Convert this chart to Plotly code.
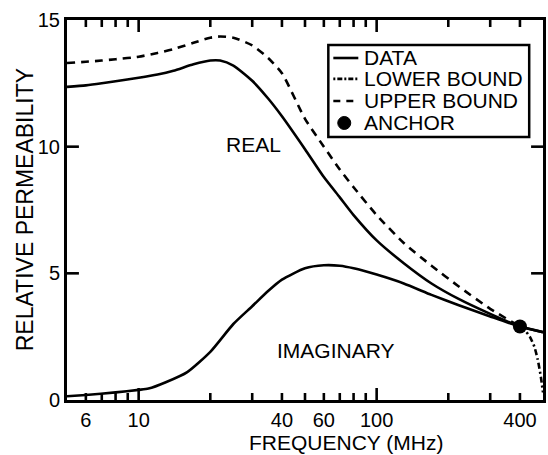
import math
import plotly.graph_objects as go

# ---- data ----
freq_real = [5, 6, 7, 8, 10, 12, 14, 17, 20, 22, 25, 30, 35, 40, 50, 60, 70, 80, 100, 130, 170, 220, 300, 400, 500]
real_vals = [12.36, 12.42, 12.5, 12.58, 12.72, 12.85, 13.0, 13.25, 13.4, 13.4, 13.2, 12.6, 11.9, 11.2, 9.9, 8.8, 8.0, 7.3, 6.3, 5.4, 4.6, 4.0, 3.4, 2.9, 2.68]

freq_imag = [5, 6, 8, 10, 11, 13, 16, 20, 25, 30, 35, 40, 50, 60, 70, 80, 100, 130, 170, 220, 300, 400, 500]
imag_vals = [0.15, 0.2, 0.3, 0.4, 0.45, 0.7, 1.1, 1.9, 3.0, 3.7, 4.3, 4.75, 5.2, 5.32, 5.3, 5.2, 4.95, 4.6, 4.15, 3.75, 3.3, 2.9, 2.68]

freq_upper = [5, 6, 7, 8, 10, 12, 14, 17, 20, 22, 25, 30, 35, 40, 50, 60, 70, 80, 100, 130, 170, 220, 300, 400]
upper_vals = [13.3, 13.35, 13.4, 13.45, 13.55, 13.7, 13.85, 14.1, 14.3, 14.35, 14.3, 14.0, 13.5, 12.9, 11.1, 10.0, 9.1, 8.4, 7.3, 6.2, 5.3, 4.5, 3.6, 2.9]

freq_lower = [400, 420, 440, 460, 475, 490, 500]
lower_vals = [2.9, 2.75, 2.5, 2.1, 1.6, 0.9, 0.3]

anchor_freq = [400]
anchor_val = [2.9]

x_label_vals = [6, 10, 40, 60, 100, 400]
x_label_text = ["6", "10", "40", "60", "100", "400"]
x_minor_vals = [6, 7, 8, 9, 20, 30, 40, 50, 60, 70, 80, 90, 200, 300, 400]
x_major_vals = [10, 100]
y_label_vals = [0, 5, 10, 15]
y_tick_vals = [5, 10]

legend_names = ["DATA", "LOWER BOUND", "UPPER BOUND", "ANCHOR"]
legend_dash = ["solid", "2px,2px,5px,2px", "7px,6px", None]

FONT = "Liberation Sans, Arial, Helvetica, sans-serif"
LW = 2.6
DASH_DOT = "6px,3px,2px,3px"
DASH = "8px,6px"

X_MIN, X_MAX, Y_MIN, Y_MAX = 5, 500, 0, 15
PLOT_W, PLOT_H = 479, 380  # plot area in pixels

fig = go.Figure()

fig.add_trace(go.Scatter(x=freq_real, y=real_vals, mode="lines", name=legend_names[0], showlegend=False,
                         line=dict(color="black", width=LW, shape="spline", smoothing=0.6)))
fig.add_trace(go.Scatter(x=freq_imag, y=imag_vals, mode="lines", name=legend_names[0], showlegend=False,
                         line=dict(color="black", width=LW, shape="spline", smoothing=0.6)))
fig.add_trace(go.Scatter(x=freq_upper, y=upper_vals, mode="lines", name=legend_names[2], showlegend=False,
                         line=dict(color="black", width=LW, dash=DASH, shape="spline", smoothing=0.6)))
fig.add_trace(go.Scatter(x=freq_lower, y=lower_vals, mode="lines", name=legend_names[1], showlegend=False,
                         line=dict(color="black", width=LW, dash=DASH_DOT, shape="spline", smoothing=0.6)))
fig.add_trace(go.Scatter(x=anchor_freq, y=anchor_val, mode="markers", name=legend_names[3], showlegend=False,
                         marker=dict(color="black", size=14)))

# ---- inside tick marks on all four sides, drawn as a line trace ----
y_per_px = (Y_MAX - Y_MIN) / PLOT_H
logx_per_px = (math.log10(X_MAX) - math.log10(X_MIN)) / PLOT_W
tx, ty = [], []
for vals, length in ((x_minor_vals, 7), (x_major_vals, 12)):
    for v in vals:
        tx += [v, v, None, v, v, None]
        ty += [Y_MIN, Y_MIN + length * y_per_px, None, Y_MAX, Y_MAX - length * y_per_px, None]
for v in y_tick_vals:
    left_end = 10 ** (math.log10(X_MIN) + 12 * logx_per_px)
    right_end = 10 ** (math.log10(X_MAX) - 12 * logx_per_px)
    tx += [X_MIN, left_end, None, X_MAX, right_end, None]
    ty += [v, v, None, v, v, None]
fig.add_trace(go.Scatter(x=tx, y=ty, mode="lines", showlegend=False, hoverinfo="skip",
                         line=dict(color="black", width=2.6), cliponaxis=False))

# ---- legend box (drawn in paper coordinates) ----
lx0, lx1, ly0, ly1 = 0.549, 0.971, 0.692, 0.934
entry_y = [0.900, 0.845, 0.787, 0.729]
shapes = [dict(type="rect", xref="paper", yref="paper", x0=lx0, x1=lx1, y0=ly0, y1=ly1,
               line=dict(color="black", width=2.5), fillcolor="white", layer="above")]
annotations = []
for name, dash, ey in zip(legend_names, legend_dash, entry_y):
    if dash is not None:
        shapes.append(dict(type="line", xref="paper", yref="paper", x0=0.5595, x1=0.612, y0=ey, y1=ey,
                           line=dict(color="black", width=LW, dash=dash), layer="above"))
    else:
        shapes.append(dict(type="circle", xref="paper", yref="paper", xsizemode="pixel", ysizemode="pixel",
                           xanchor=0.5825, yanchor=ey, x0=-6.5, x1=6.5, y0=-6.5, y1=6.5,
                           fillcolor="black", line=dict(color="black", width=1), layer="above"))
    annotations.append(dict(x=0.620, y=ey, xref="paper", yref="paper", text=name, showarrow=False,
                            xanchor="left", yanchor="middle", font=dict(size=21)))

annotations += [
    dict(x=1.484, y=10.07, xref="x", yref="y", text="REAL", showarrow=False, font=dict(size=21)),
    dict(x=1.826, y=1.95, xref="x", yref="y", text="IMAGINARY", showarrow=False, font=dict(size=21)),
    dict(x=0.5866, y=-0.113, xref="paper", yref="paper", text="FREQUENCY (MHz)", showarrow=False,
         xanchor="center", yanchor="middle", font=dict(size=21)),
    dict(x=-0.0877, y=0.5, xref="paper", yref="paper", text="RELATIVE PERMEABILITY", showarrow=False,
         textangle=-90, xanchor="center", yanchor="middle", font=dict(size=23)),
]

fig.update_layout(
    width=548, height=455,
    margin=dict(l=67, r=2, t=20, b=55),
    paper_bgcolor="white", plot_bgcolor="white",
    font=dict(family=FONT, size=20, color="black"),
    showlegend=False,
    xaxis=dict(type="log", range=[math.log10(X_MIN), math.log10(X_MAX)], showgrid=False, zeroline=False,
               showline=True, linecolor="black", linewidth=3, mirror=True,
               ticks="", tickmode="array", tickvals=x_label_vals, ticktext=x_label_text,
               tickfont=dict(size=20)),
    yaxis=dict(range=[Y_MIN, Y_MAX], showgrid=False, zeroline=False,
               showline=True, linecolor="black", linewidth=3, mirror=True,
               ticks="", tickmode="array", tickvals=y_label_vals, tickfont=dict(size=20)),
    shapes=shapes,
    annotations=annotations,
)

fig.write_html("out.html")
